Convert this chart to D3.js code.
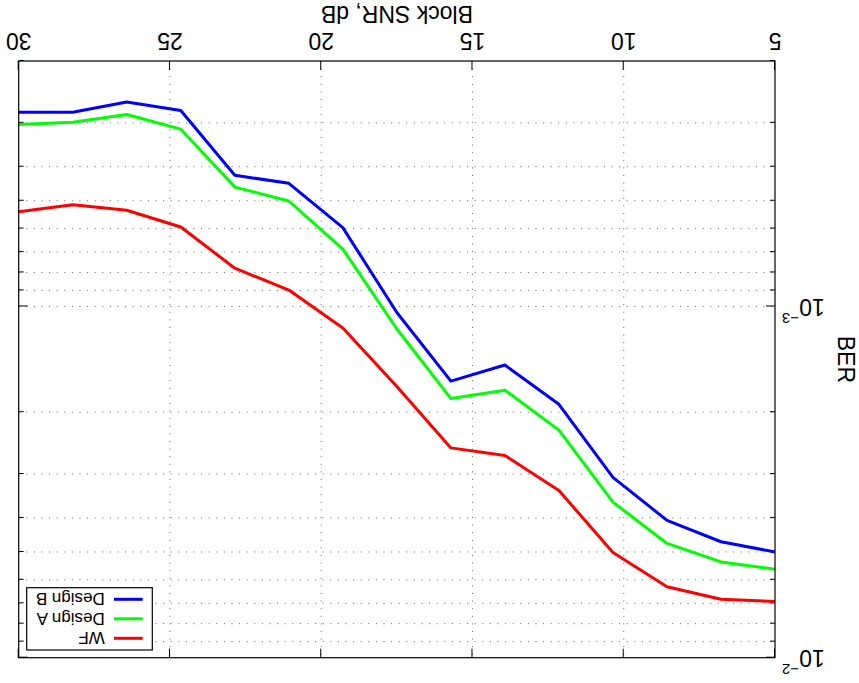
<!DOCTYPE html>
<html>
<head>
<meta charset="utf-8">
<script src="https://cdn.jsdelivr.net/npm/d3@7/dist/d3.min.js"></script>
<style>
  body { margin: 0; background: #fff; }
  text { font-family: "Liberation Sans", Arial, sans-serif; fill: #000; }
</style>
</head>
<body>
<svg width="859" height="683"></svg>
<script>
// Block SNR (dB) sample points
var snr = [5, 6.786, 8.571, 10.357, 12.143, 13.929, 15.714, 17.5, 19.286, 21.071, 22.857, 24.643, 26.429, 28.214, 30];

var berWF = [6.92e-3, 6.82e-3, 6.28e-3, 5.02e-3, 3.34e-3, 2.655e-3, 2.527e-3, 1.691e-3,
             1.151e-3, 8.98e-4, 7.78e-4, 5.94e-4, 5.32e-4, 5.13e-4, 5.37e-4];
var berA  = [5.6e-3, 5.336e-3, 4.728e-3, 3.607e-3, 2.249e-3, 1.731e-3, 1.829e-3, 1.159e-3,
             6.867e-4, 5.008e-4, 4.571e-4, 3.127e-4, 2.84e-4, 2.987e-4, 3.032e-4];
var berB  = [5.0e-3, 4.676e-3, 4.063e-3, 3.067e-3, 1.899e-3, 1.468e-3, 1.631e-3, 1.04e-3,
             5.965e-4, 4.46e-4, 4.23e-4, 2.767e-4, 2.616e-4, 2.798e-4, 2.798e-4];

var seriesNames = ['WF', 'Design A', 'Design B'];
var seriesColors = ['#ff0000', '#00ff00', '#0000ff'];

var xTicks = [5, 10, 15, 20, 25, 30];
var yMajor = [1e-3, 1e-2];
var yMajorExp = ['\u22123', '\u22122'];
var yMinor = [2e-4, 3e-4, 4e-4, 5e-4, 6e-4, 7e-4, 8e-4, 9e-4,
              2e-3, 3e-3, 4e-3, 5e-3, 6e-3, 7e-3, 8e-3, 9e-3];

var W = 859, H = 683;
var margin = {top: 25.3, right: 18.7, bottom: 61, left: 84};

var svg = d3.select('svg');
// the whole figure is shown turned upside down
var g = svg.append('g').attr('transform', 'rotate(180,' + W / 2 + ',' + H / 2 + ')');

var x = d3.scaleLinear().domain([5, 30]).range([margin.left, W - margin.right]);
var y = d3.scaleLog().domain([2e-4, 1e-2]).range([H - margin.bottom, margin.top]);

var x0 = x.range()[0], x1 = x.range()[1], y0 = y.range()[0], y1 = y.range()[1];

// dotted grid
var grid = g.append('g')
  .attr('stroke', '#666')
  .attr('stroke-width', 1)
  .attr('stroke-dasharray', '1,6.6');

grid.selectAll('.vg').data(xTicks.slice(1, -1))
  .enter().append('line')
    .attr('x1', function (d) { return x(d); })
    .attr('x2', function (d) { return x(d); })
    .attr('y1', y0).attr('y2', y1);

grid.selectAll('.hg').data(yMajor.concat(yMinor).filter(function (d) { return d > 2e-4 && d < 1e-2; }))
  .enter().append('line')
    .attr('x1', x1).attr('x2', x0)
    .attr('y1', function (d) { return y(d); })
    .attr('y2', function (d) { return y(d); });

// ticks on all four sides, pointing inwards
function styleAxis(sel) {
  sel.select('.domain').remove();
  sel.selectAll('line').attr('stroke', '#000');
  sel.selectAll('text').remove();
}

g.append('g').attr('transform', 'translate(0,' + y0 + ')')
  .call(d3.axisBottom(x).tickValues(xTicks).tickSize(-9)).call(styleAxis);
g.append('g').attr('transform', 'translate(0,' + y1 + ')')
  .call(d3.axisTop(x).tickValues(xTicks).tickSize(-9)).call(styleAxis);
g.append('g').attr('transform', 'translate(' + x0 + ',0)')
  .call(d3.axisLeft(y).tickValues(yMajor).tickSize(-9)).call(styleAxis);
g.append('g').attr('transform', 'translate(' + x1 + ',0)')
  .call(d3.axisRight(y).tickValues(yMajor).tickSize(-9)).call(styleAxis);
g.append('g').attr('transform', 'translate(' + x0 + ',0)')
  .call(d3.axisLeft(y).tickValues(yMinor).tickSize(-5)).call(styleAxis);
g.append('g').attr('transform', 'translate(' + x1 + ',0)')
  .call(d3.axisRight(y).tickValues(yMinor).tickSize(-5)).call(styleAxis);

// curves
var line = d3.line()
  .x(function (d) { return x(d[0]); })
  .y(function (d) { return y(d[1]); });

[berWF, berA, berB].forEach(function (vals, i) {
  g.append('path')
    .datum(snr.map(function (s, j) { return [s, vals[j]]; }))
    .attr('fill', 'none')
    .attr('stroke', seriesColors[i])
    .attr('stroke-width', 3)
    .attr('stroke-linejoin', 'round')
    .attr('d', line);
});

// box
g.append('rect')
  .attr('x', x0).attr('y', y1)
  .attr('width', x1 - x0).attr('height', y0 - y1)
  .attr('fill', 'none').attr('stroke', '#000').attr('stroke-width', 1.2);

// tick labels
g.selectAll('.xl').data(xTicks)
  .enter().append('text')
    .attr('x', function (d) { return x(d); })
    .attr('y', y0 + 28)
    .attr('text-anchor', 'middle')
    .style('font-size', '23px')
    .text(function (d) { return d; });

var yl = g.selectAll('.yl').data(yMajor)
  .enter().append('text')
    .attr('x', x0 - 7)
    .attr('y', function (d) { return y(d) + 8; })
    .attr('text-anchor', 'end')
    .style('font-size', '23px');
yl.append('tspan').text('10');
yl.append('tspan').attr('dy', -14).style('font-size', '15px')
  .text(function (d, i) { return yMajorExp[i]; });

// axis titles
g.append('text')
  .attr('x', (x0 + x1) / 2).attr('y', 677)
  .attr('text-anchor', 'middle')
  .style('font-size', '23px')
  .text('Block SNR, dB');

g.append('text')
  .attr('transform', 'translate(21,' + (y0 + y1) / 2 + ') rotate(-90)')
  .attr('text-anchor', 'middle')
  .style('font-size', '23px')
  .text('BER');

// legend
var lg = g.append('g').attr('transform', 'translate(706.7,33)');
lg.append('rect')
  .attr('width', 125.6).attr('height', 62.3)
  .attr('fill', '#fff').attr('stroke', '#000').attr('stroke-width', 1.2);
seriesNames.forEach(function (name, i) {
  var ry = 11.7 + i * 19.5;
  lg.append('line')
    .attr('x1', 9.6).attr('x2', 38.3)
    .attr('y1', ry).attr('y2', ry)
    .attr('stroke', seriesColors[i]).attr('stroke-width', 3);
  lg.append('text')
    .attr('x', 47.5).attr('y', ry + 6)
    .style('font-size', '17px')
    .text(name);
});
</script>
</body>
</html>
